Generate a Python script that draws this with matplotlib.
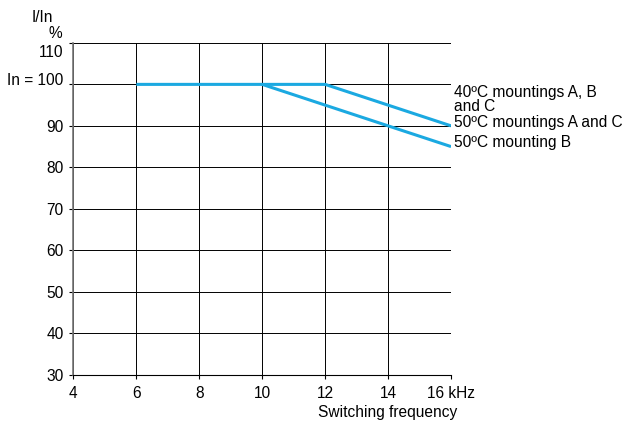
import matplotlib
matplotlib.use('Agg')
import matplotlib.pyplot as plt
import matplotlib.transforms as mtransforms
import numpy as np

plt.rcParams['font.family'] = ['Liberation Sans', 'DejaVu Sans']
plt.rcParams['font.size'] = 11.2

# derating curves
freq_a = [6, 12, 16]
curr_a = [100, 100, 90]     # 40C A,B,C / 50C A,C
freq_b = [10, 16]
curr_b = [100, 85]          # 50C mounting B

xticks = [4, 6, 8, 10, 12, 14, 16]
xlabels = ['4', '6', '8', '10', '12', '14', '16 kHz']
yticks = [30, 40, 50, 60, 70, 80, 90, 100, 110]
ylabels = ['30', '40', '50', '60', '70', '80', '90', 'In = 100', '110']

labels = ['40ºC mountings A, B\nand C', '50ºC mountings A and C', '50ºC mounting B']
label_y = [96.3, 90.7, 85.9]

fig = plt.figure(figsize=(6.29, 4.24), dpi=100)
ax = fig.add_axes([0.1166, 0.1163, 0.6005, 0.7825])

blue = '#1ba9e1'
ax.plot(freq_a, curr_a, color=blue, lw=2.2, solid_capstyle='butt', zorder=3)
ax.plot(freq_b, curr_b, color=blue, lw=2.2, solid_capstyle='butt', zorder=3)

ax.set_xlim(4, 16)
ax.set_ylim(30, 110)
ax.set_xticks(xticks)
ax.set_xticklabels(xlabels)
ax.set_yticks(yticks)
ax.set_yticklabels(ylabels)
ax.grid(True, color='black', lw=0.7)
ax.tick_params(length=3, width=0.8, color='black')
ax.tick_params(axis='x', pad=5)
ax.tick_params(axis='y', pad=4)
for s in ['top', 'right']:
    ax.spines[s].set_visible(False)
ax.spines['left'].set_color('#777777')
ax.spines['left'].set_linewidth(1.2)
ax.spines['bottom'].set_color('black')
ax.spines['bottom'].set_linewidth(0.8)

# nudge the top two y labels like the original drawing
tl = ax.get_yticklabels()
tl[-1].set_transform(tl[-1].get_transform() + mtransforms.ScaledTranslation(0, -6 / 72, fig.dpi_scale_trans))
tl[-2].set_transform(tl[-2].get_transform() + mtransforms.ScaledTranslation(0, 4 / 72, fig.dpi_scale_trans))

for lab, yy in zip(labels, label_y):
    ax.text(16.1, yy, lab, va='center', ha='left', linespacing=0.95, clip_on=False)

fig.text(0.068, 0.958, 'I/In', ha='center', va='center')
fig.text(0.0986, 0.922, '%', ha='right', va='center')
ax.text(14, -0.113, 'Switching frequency', transform=ax.get_xaxis_transform(), ha='center', va='center')

plt.savefig('out.png', dpi=100)
